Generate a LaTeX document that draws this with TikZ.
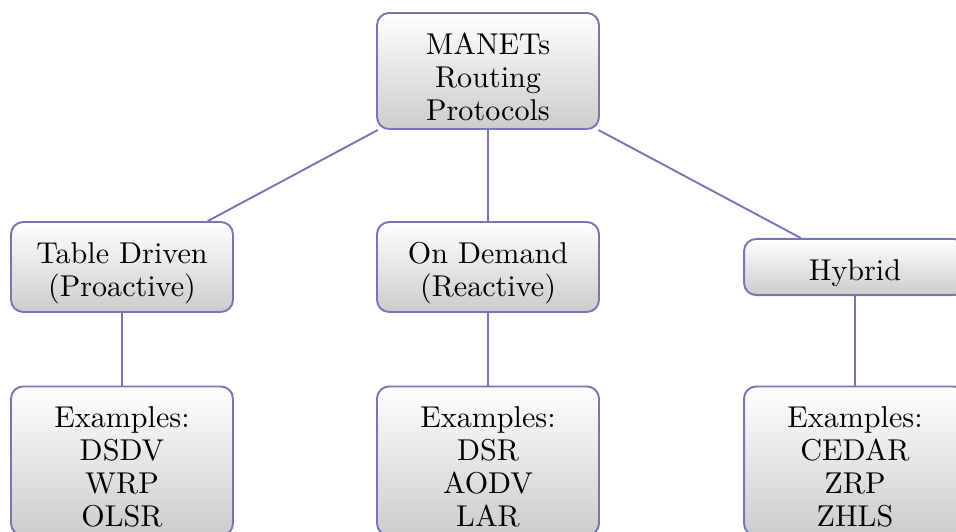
\documentclass[tikz,border=0pt]{standalone}
\begin{document}
\begin{tikzpicture}[x=0.3636pt,y=-0.3636pt,
  pbox/.style={draw=linecol, line width=0.7pt, rounded corners=4.4pt,
    top color=white, bottom color=black!20,
    minimum width=80.7pt, inner sep=0pt},
  ptext/.style={align=center, inner sep=0pt, yshift=-2.3pt,
    font=\fontsize{10.95}{12}\selectfont},
  conn/.style={draw=linecol, line width=0.7pt}]
\definecolor{linecol}{RGB}{118,118,182}
\useasboundingbox (0,0) rectangle (956,531);
\clip (0,0) rectangle (956,531);
\node[pbox, minimum height=42.2pt] (root) at (488,71) {};
\node[pbox, minimum height=32.7pt] (td) at (122,267) {};
\node[pbox, minimum height=32.7pt] (od) at (488,267) {};
\node[pbox, minimum height=20.4pt] (hy) at (855,267) {};
\node[pbox, minimum height=54.2pt] (ex1) at (122,461) {};
\node[pbox, minimum height=54.2pt] (ex2) at (488,461) {};
\node[pbox, minimum height=54.2pt] (ex3) at (855,461) {};
\node[ptext] (rootT) at (root) {MANETs\\Routing\\Protocols};
\node[ptext] (tdT) at (td) {Table Driven\\(Proactive)};
\node[ptext] (odT) at (od) {On Demand\\(Reactive)};
\node[ptext] (hyT) at (hy) {Hybrid};
\node[ptext] (ex1T) at (ex1) {Examples:\\DSDV\\WRP\\OLSR};
\node[ptext] (ex2T) at (ex2) {Examples:\\DSR\\AODV\\LAR};
\node[ptext] (ex3T) at (ex3) {Examples:\\CEDAR\\ZRP\\ZHLS};
\draw[conn] (root) -- (td);
\draw[conn] (root) -- (od);
\draw[conn] (root) -- (hy);
\draw[conn] (td) -- (ex1);
\draw[conn] (od) -- (ex2);
\draw[conn] (hy) -- (ex3);
\end{tikzpicture}
\end{document}
